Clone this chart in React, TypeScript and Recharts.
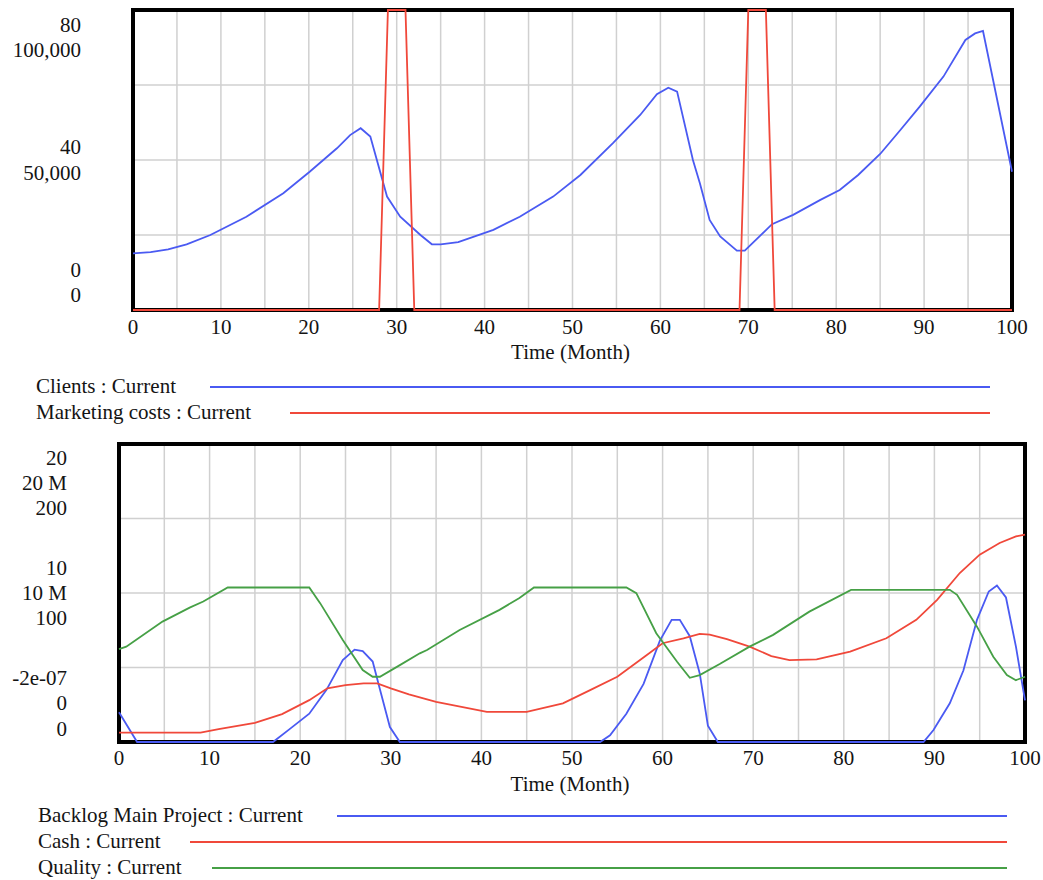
import React from 'react';
import { LineChart, Line, XAxis, YAxis, CartesianGrid, ReferenceArea, Label } from 'recharts';

const FONT = '"Liberation Serif", "Times New Roman", Times, serif';
const TEXT = '#141414';
const BLUE = '#4a5af2';
const RED = '#f0483a';
const GREEN = '#46a046';
const GRID = '#d0d0d0';

// ---------- Top chart data ----------
const clientsTime = [0, 2, 4, 6.1, 8.8, 12.9, 17.1, 20.1, 23.2, 24.7, 25.9, 27.0, 28.9, 30.4, 32.7, 34.0, 35.0, 37.0, 41.0, 44.0, 47.8, 50.9, 54.6, 57.7, 59.6, 60.9, 61.9, 63.7, 64.5, 65.6, 66.8, 68.7, 69.6, 72.7, 75.1, 78.2, 80.4, 82.5, 85.0, 87.3, 89.5, 92.2, 94.7, 95.8, 96.7, 100];
const clientsValues = [18900, 19300, 20200, 21900, 25000, 31100, 38900, 46100, 53900, 58300, 60600, 57800, 37800, 31100, 25000, 21900, 21900, 22600, 26700, 31100, 37800, 45000, 55600, 65000, 71900, 74100, 72800, 50000, 42200, 30000, 24500, 19800, 19800, 28600, 31700, 36700, 40000, 45000, 52000, 60000, 67800, 77800, 90000, 92200, 93000, 46100];
const marketingTime = [0, 28, 29, 31, 32, 69, 70, 72, 73, 100];
const marketingValues = [0, 0, 80, 80, 0, 0, 80, 80, 0, 0];

// ---------- Bottom chart data ----------
const backlogTime = [0, 2, 17, 18.9, 21, 22.9, 24.7, 26, 26.9, 28, 28.9, 29.9, 31, 53.1, 54.2, 56, 57.9, 59.7, 61, 61.9, 63, 64.1, 65, 66.1, 88.8, 89.9, 91.7, 93.2, 94.7, 96, 96.9, 97.9, 99, 100];
const backlogValues = [20, 0, 0, 9, 19, 35, 55, 62, 61, 54, 33, 10, 0, 0, 4.5, 19, 39, 68, 82, 82, 71, 46, 11, 0, 0, 8, 26, 48, 82, 101, 105, 97, 64, 28];
const cashTime = [0, 9, 11, 15, 18, 21, 23, 25, 27, 28.5, 30, 32, 35, 40.6, 45, 49, 52, 55, 58, 60, 62.3, 64.1, 65.2, 67.1, 69.6, 72, 74, 77, 80.7, 84.7, 88, 90.3, 92.8, 95, 97.2, 99, 100];
const cashValues = [630000, 630000, 860000, 1280000, 1870000, 2810000, 3600000, 3820000, 3930000, 3930000, 3600000, 3200000, 2690000, 2020000, 2020000, 2590000, 3480000, 4380000, 5720000, 6630000, 6960000, 7250000, 7200000, 6900000, 6400000, 5770000, 5500000, 5550000, 6060000, 6960000, 8200000, 9540000, 11340000, 12570000, 13360000, 13800000, 13920000];
const qualityTime = [0, 0.8, 4.8, 7.8, 9.3, 12, 21, 22.2, 24.7, 26.9, 28, 28.8, 31, 33.2, 34, 37.6, 42, 44.2, 45.8, 56, 57.1, 59.3, 61.6, 63, 64.1, 66.3, 69.6, 72.2, 76.2, 80.8, 91.7, 92.5, 94.7, 96.5, 98, 99, 100];
const qualityValues = [6.24, 6.4, 8.08, 9.02, 9.43, 10.37, 10.37, 9.32, 6.85, 4.83, 4.38, 4.38, 5.16, 5.95, 6.17, 7.52, 8.87, 9.66, 10.37, 10.37, 9.99, 7.3, 5.39, 4.31, 4.49, 5.23, 6.4, 7.19, 8.75, 10.21, 10.21, 9.88, 7.74, 5.72, 4.49, 4.15, 4.38];

// ---------- Axis ticks & labels ----------
const timeTicks = [0, 5, 10, 15, 20, 25, 30, 35, 40, 45, 50, 55, 60, 65, 70, 75, 80, 85, 90, 95, 100];
const clientsTicks = [0, 25000, 50000, 75000, 100000];
const clientsLabels = ['0', '50,000', '100,000'];
const marketingLabels = ['0', '40', '80'];
const backlogTicks = [0, 50, 100, 150, 200];
const backlogLabels = ['0', '100', '200'];
const cashLabels = ['0', '10 M', '20 M'];
const qualityLabels = ['-2e-07', '10', '20'];
const timeAxisTitle = 'Time (Month)';

const topSeries = [
  { name: 'Clients : Current', color: BLUE },
  { name: 'Marketing costs : Current', color: RED },
];
const bottomSeries = [
  { name: 'Backlog Main Project : Current', color: BLUE },
  { name: 'Cash : Current', color: RED },
  { name: 'Quality : Current', color: GREEN },
];

const zip = (ts: number[], vs: number[]) => ts.map((t, i) => ({ t, v: vs[i] }));
const clientsData = zip(clientsTime, clientsValues);
const marketingData = zip(marketingTime, marketingValues);
const backlogData = zip(backlogTime, backlogValues);
const cashData = zip(cashTime, cashValues);
const qualityData = zip(qualityTime, qualityValues);

const topStacks: Record<number, string[]> = {
  0: [marketingLabels[0], clientsLabels[0]],
  50000: [marketingLabels[1], clientsLabels[1]],
  100000: [marketingLabels[2], clientsLabels[2]],
};
const topOffsets: Record<number, number[]> = {
  0: [-33, -8],
  50000: [-6, 20],
  100000: [22, 47],
};
const bottomStacks: Record<number, string[]> = {
  0: [qualityLabels[0], cashLabels[0], backlogLabels[0]],
  100: [qualityLabels[1], cashLabels[1], backlogLabels[1]],
  200: [qualityLabels[2], cashLabels[2], backlogLabels[2]],
};
const bottomOffsets: Record<number, number[]> = {
  0: [-57, -32, -6],
  100: [-18, 7, 32],
  200: [21, 46, 71],
};

const FS = 21;

const makeYTick = (stacks: Record<number, string[]>, offsets: Record<number, number[]>, rightX: number) =>
  (props: any) => {
    const { y, payload } = props;
    const lines = stacks[payload.value];
    if (!lines) return <g />;
    const offs = offsets[payload.value];
    return (
      <g>
        {lines.map((s, i) => (
          <text key={i} x={rightX} y={y + offs[i]} textAnchor="end" fontFamily={FONT} fontSize={FS} fill={TEXT}>
            {s}
          </text>
        ))}
      </g>
    );
  };

const makeXTick = (baseline: number) => (props: any) => {
  const { x, payload } = props;
  if (payload.value % 10 !== 0) return <g />;
  return (
    <text x={x} y={baseline} textAnchor="middle" fontFamily={FONT} fontSize={FS} fill={TEXT}>
      {payload.value}
    </text>
  );
};

const makeXTitle = (baseline: number) => (props: any) => {
  const vb = props.viewBox || {};
  return (
    <text x={vb.x + vb.width / 2 - 2} y={baseline} textAnchor="middle" fontFamily={FONT} fontSize={FS} fill={TEXT}>
      {timeAxisTitle}
    </text>
  );
};

function LegendBlock({ items, top, textX, lineStarts, lineEnd, rowGap, firstBaseline }: any) {
  return (
    <svg width={1043} height={rowGap * items.length + 12} style={{ position: 'absolute', left: 0, top }}>
      {items.map((it: any, i: number) => (
        <g key={i}>
          <text x={textX} y={firstBaseline + i * rowGap} fontFamily={FONT} fontSize={FS} fill={TEXT}>
            {it.name}
          </text>
          <line x1={lineStarts[i]} x2={lineEnd} y1={firstBaseline + i * rowGap - 6} y2={firstBaseline + i * rowGap - 6} stroke={it.color} strokeWidth={2} />
        </g>
      ))}
    </svg>
  );
}

export default function App() {
  return (
    <div style={{ position: 'absolute', left: 0, top: 0, width: 1043, height: 880, background: '#fff' }}>
      <div style={{ position: 'absolute', left: 0, top: 0 }}>
        <LineChart width={1043} height={370} margin={{ top: 10, right: 31, bottom: 0, left: 0 }}>
          <CartesianGrid yAxisId="clients" stroke={GRID} strokeWidth={1.5} />
          <XAxis type="number" dataKey="t" domain={[0, 100]} ticks={timeTicks} interval={0} tick={makeXTick(334)} tickLine={false} axisLine={false} height={60} allowDuplicatedCategory={false}>
            <Label content={makeXTitle(359)} />
          </XAxis>
          <YAxis yAxisId="clients" type="number" domain={[0, 100000]} ticks={clientsTicks} interval={0} width={133} tick={makeYTick(topStacks, topOffsets, 81)} tickLine={false} axisLine={false} />
          <YAxis yAxisId="mkt" type="number" domain={[0, 80]} hide />
          <ReferenceArea yAxisId="clients" x1={0} x2={100} y1={0} y2={100000} fill="none" fillOpacity={0} stroke="#000" strokeWidth={4} ifOverflow="visible" zIndex={-50} />
          <Line yAxisId="clients" data={clientsData} dataKey="v" type="linear" stroke={BLUE} strokeWidth={1.8} dot={false} activeDot={false} isAnimationActive={false} />
          <Line yAxisId="mkt" data={marketingData} dataKey="v" type="linear" stroke={RED} strokeWidth={1.8} dot={false} activeDot={false} isAnimationActive={false} />
        </LineChart>
      </div>
      <LegendBlock items={topSeries} top={370} textX={36} lineStarts={[210, 290]} lineEnd={990} rowGap={26} firstBaseline={23} />
      <div style={{ position: 'absolute', left: 0, top: 430 }}>
        <LineChart width={1043} height={370} margin={{ top: 14, right: 18, bottom: 0, left: 0 }}>
          <CartesianGrid yAxisId="backlog" stroke={GRID} strokeWidth={1.5} />
          <XAxis type="number" dataKey="t" domain={[0, 100]} ticks={timeTicks} interval={0} tick={makeXTick(335)} tickLine={false} axisLine={false} height={58} allowDuplicatedCategory={false}>
            <Label content={makeXTitle(361)} />
          </XAxis>
          <YAxis yAxisId="backlog" type="number" domain={[0, 200]} ticks={backlogTicks} interval={0} width={119} tick={makeYTick(bottomStacks, bottomOffsets, 67)} tickLine={false} axisLine={false} />
          <YAxis yAxisId="cash" type="number" domain={[0, 20000000]} hide />
          <YAxis yAxisId="quality" type="number" domain={[-2e-7, 20]} hide />
          <ReferenceArea yAxisId="backlog" x1={0} x2={100} y1={0} y2={200} fill="none" fillOpacity={0} stroke="#000" strokeWidth={4} ifOverflow="visible" zIndex={-50} />
          <Line yAxisId="backlog" data={backlogData} dataKey="v" type="linear" stroke={BLUE} strokeWidth={1.8} dot={false} activeDot={false} isAnimationActive={false} />
          <Line yAxisId="cash" data={cashData} dataKey="v" type="linear" stroke={RED} strokeWidth={1.8} dot={false} activeDot={false} isAnimationActive={false} />
          <Line yAxisId="quality" data={qualityData} dataKey="v" type="linear" stroke={GREEN} strokeWidth={1.8} dot={false} activeDot={false} isAnimationActive={false} />
        </LineChart>
      </div>
      <LegendBlock items={bottomSeries} top={800} textX={38} lineStarts={[337, 190, 212]} lineEnd={1007} rowGap={26} firstBaseline={22} />
    </div>
  );
}
